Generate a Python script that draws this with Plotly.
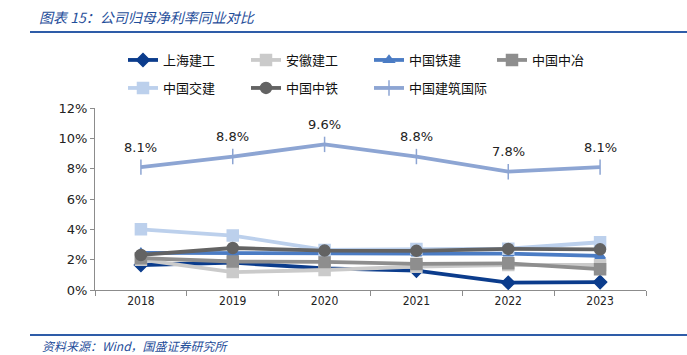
import plotly.graph_objects as go

years = ["2018", "2019", "2020", "2021", "2022", "2023"]
shanghai = [0.0165, 0.0180, 0.0143, 0.0128, 0.0048, 0.0052]
anhui = [0.0200, 0.0118, 0.0132, 0.0154, 0.0165, 0.0165]
crcc = [0.0245, 0.0242, 0.0240, 0.0240, 0.0240, 0.0225]
mcc = [0.0210, 0.0188, 0.0185, 0.0172, 0.0176, 0.0137]
cccc = [0.0400, 0.0359, 0.0264, 0.0270, 0.0272, 0.0315]
crec = [0.0231, 0.0277, 0.0260, 0.0258, 0.0271, 0.0268]
cscint = [0.081, 0.088, 0.096, 0.088, 0.078, 0.081]
cscint_labels = ["8.1%", "8.8%", "9.6%", "8.8%", "7.8%", "8.1%"]

series = [
    ("上海建工", shanghai, "#0B3C8C", "diamond", 10, "legend"),
    ("安徽建工", anhui, "#CACACA", "square", 11, "legend"),
    ("中国铁建", crcc, "#4B7CC4", "triangle-up", 9, "legend"),
    ("中国中冶", mcc, "#8E8E8E", "square", 11, "legend"),
    ("中国交建", cccc, "#BCD0EC", "square", 11, "legend2"),
    ("中国中铁", crec, "#636363", "circle", 11, "legend2"),
    ("中国建筑国际", cscint, "#8DA5D3", "line-ns-open", 11, "legend2"),
]

fig = go.Figure()
for name, vals, color, sym, size, lg in series:
    fig.add_trace(go.Scatter(
        x=years, y=vals, name=name, mode="lines+markers",
        line=dict(color=color, width=3.8),
        marker=dict(symbol=sym, size=size, color=color,
                    line=dict(color=color, width=1.5)),
        legend=lg,
    ))

for i, (v, t) in enumerate(zip(cscint, cscint_labels)):
    fig.add_annotation(x=i, y=v, text=t, showarrow=False, yshift=20,
                       font=dict(family="DejaVu Sans", size=13, color="#222222"))

cjk = "Noto Sans CJK SC"
L, R, T, B = 95, 41, 108, 65
W, H = 687, 355
pw, ph = W - L - R, H - T - B

def px(x):
    return (x - L) / pw

def py(y):
    return (H - B - y) / ph

fig.add_shape(type="line", xref="paper", yref="paper", x0=px(30), x1=px(687),
              y0=py(32), y1=py(32), line=dict(color="#2E5CA8", width=2))
fig.add_shape(type="line", xref="paper", yref="paper", x0=px(30), x1=px(687),
              y0=py(335), y1=py(335), line=dict(color="#2E5CA8", width=2))
fig.add_annotation(xref="paper", yref="paper", x=px(37), y=py(17), xanchor="left",
                   yanchor="middle", showarrow=False,
                   text="<i>图表 15：公司归母净利率同业对比</i>",
                   font=dict(family=cjk, size=14, color="#1F4E9A"))
fig.add_annotation(xref="paper", yref="paper", x=px(40), y=py(345), xanchor="left",
                   yanchor="middle", showarrow=False,
                   text="<i>资料来源：Wind，国盛证券研究所</i>",
                   font=dict(family=cjk, size=12, color="#1F4E9A"))

legend_common = dict(orientation="h", xanchor="left", yanchor="middle",
                     entrywidth=78, entrywidthmode="pixels",
                     font=dict(family=cjk, size=13, color="#111111"),
                     bgcolor="rgba(0,0,0,0)", itemwidth=30)

fig.update_layout(
    width=W, height=H,
    margin=dict(l=L, r=R, t=T, b=B, autoexpand=False),
    paper_bgcolor="white", plot_bgcolor="white",
    showlegend=True,
    legend=dict(x=px(123), y=py(60), **legend_common),
    legend2=dict(x=px(123), y=py(88), **legend_common),
    xaxis=dict(type="category", range=[-0.5, 5.5], showgrid=False, showline=True,
               linecolor="#8C8C8C", linewidth=1, ticks="outside", tickson="boundaries",
               ticklen=5, tickcolor="#8C8C8C", tickangle=0,
               tickfont=dict(family="DejaVu Sans Condensed, DejaVu Sans", size=12, color="#222222")),
    yaxis=dict(range=[0, 0.12], dtick=0.02, tickformat=".0%", showgrid=False,
               showline=True, linecolor="#8C8C8C", linewidth=1, ticks="outside",
               ticklen=4, tickcolor="#8C8C8C", zeroline=False,
               tickfont=dict(family="DejaVu Sans", size=13, color="#222222")),
)

fig.write_html("out.html", config={"displayModeBar": False},
               post_script="document.body.style.margin='0';document.body.style.overflow='hidden';")
